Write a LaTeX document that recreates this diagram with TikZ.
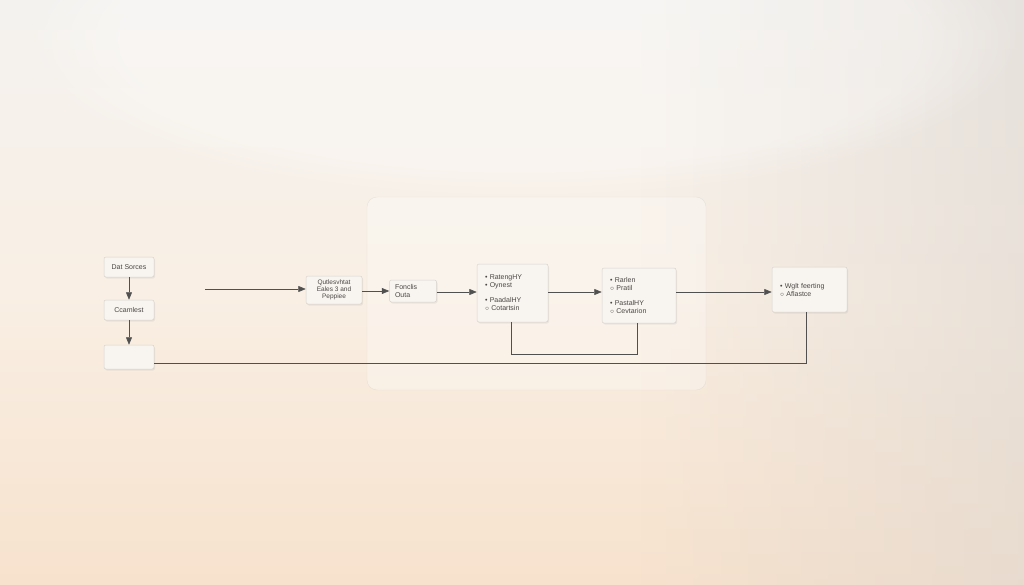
\documentclass[tikz,border=0pt]{standalone}
\usepackage{fontspec}
\setmainfont{Liberation Sans}
\usetikzlibrary{arrows.meta,fadings,shadows}
\definecolor{bgtop}{HTML}{F4F2EF}
\definecolor{bgmid}{HTML}{F9EFE4}
\definecolor{bgbot}{HTML}{F7E2CD}
\definecolor{bggrey}{HTML}{DDD6D0}
\definecolor{boxfill}{HTML}{F8F5F1}
\definecolor{boxline}{HTML}{D8D2CB}
\definecolor{wire}{HTML}{505050}
\definecolor{txt}{HTML}{4A4744}
\tikzset{
  box/.style={draw=boxline, line width=0.5pt, fill=boxfill, rounded corners=2pt,
    drop shadow={shadow xshift=1pt, shadow yshift=-1.5pt, opacity=0.12},
    font=\fontsize{7}{8}\selectfont, text=txt, align=left, inner sep=2pt},
  lbox/.style={box, inner xsep=8pt, text width=#1},
  wire/.style={draw=wire, line width=0.6pt},
  arr/.style={wire, -{Triangle[length=7.5pt,width=6pt]}},
}
\begin{document}
\begin{tikzpicture}[x=1pt,y=-1pt]
\useasboundingbox (0,0) rectangle (1024,585);
% background
\shade[top color=bgtop, bottom color=bgbot, middle color=bgmid] (0,0) rectangle (1024,585);
\fill[bggrey, path fading=west, opacity=0.55] (640,0) rectangle (1024,585);
\fill[white, path fading=circle with fuzzy edge 20 percent, opacity=0.3] (520,40) ellipse (500 and 160);
% panel
\fill[white, opacity=0.28, rounded corners=10pt] (367,197) rectangle (706,390);
\draw[boxline, opacity=0.5, line width=0.4pt, rounded corners=10pt] (367,197) rectangle (706,390);
% nodes
\node[box, minimum width=50pt, minimum height=20pt, align=center] (ds) at (129,267) {Dat Sorces};
\node[box, minimum width=50pt, minimum height=20pt, align=center] (cc) at (129,310) {Ccamlest};
\node[box, minimum width=50pt, minimum height=24pt] (em) at (129,357) {};
\coordinate (st) at (205,289);
\node[box, minimum width=56pt, minimum height=28pt, align=center, font=\fontsize{6.5}{7.2}\selectfont] (qe) at (334,290) {Qutlesvhtat\\Eales 3 and\\Peppiee};
\node[box, minimum width=47pt, minimum height=22pt, inner xsep=5pt, text width=36pt] (fo) at (413,291) {Fonclis\\Outa};
\node[lbox=55pt, minimum height=58pt] (b1) at (512.5,293) {\textbullet\ RatengHY\\\textbullet\ Oynest\\[7pt]\textbullet\ PaadalHY\\$\circ$ Cotartsin};
\node[lbox=58pt, minimum height=55pt] (b2) at (639,295.5) {\textbullet\ Rarlen\\$\circ$ Pratil\\[7pt]\textbullet\ PastalHY\\$\circ$ Cevtarion};
\node[lbox=59pt, minimum height=45pt] (b3) at (809.5,289.5) {\textbullet\ Wglt feerting\\$\circ$ Aflastce};
% connectors
\coordinate (ya) at (0,292);
\draw[arr] (ds) -- (cc);
\draw[arr] (cc) -- (em);
\draw[arr] (st) -- (qe.west |- st);
\draw[arr] (qe.east |- fo) -- (fo);
\draw[arr] (fo.east |- ya) -- (b1.west |- ya);
\draw[arr] (b1.east |- ya) -- (b2.west |- ya);
\draw[arr] (b2.east |- ya) -- (b3.west |- ya);
\coordinate (l1) at (511,354);
\coordinate (l2) at (637,354);
\draw[wire] (b1.south -| l1) -- (l1) -- (l2) -- (b2.south -| l2);
\coordinate (r1) at (806,363);
\draw[wire] (em.east |- r1) -- (r1) -- (b3.south -| r1);
\end{tikzpicture}
\end{document}
